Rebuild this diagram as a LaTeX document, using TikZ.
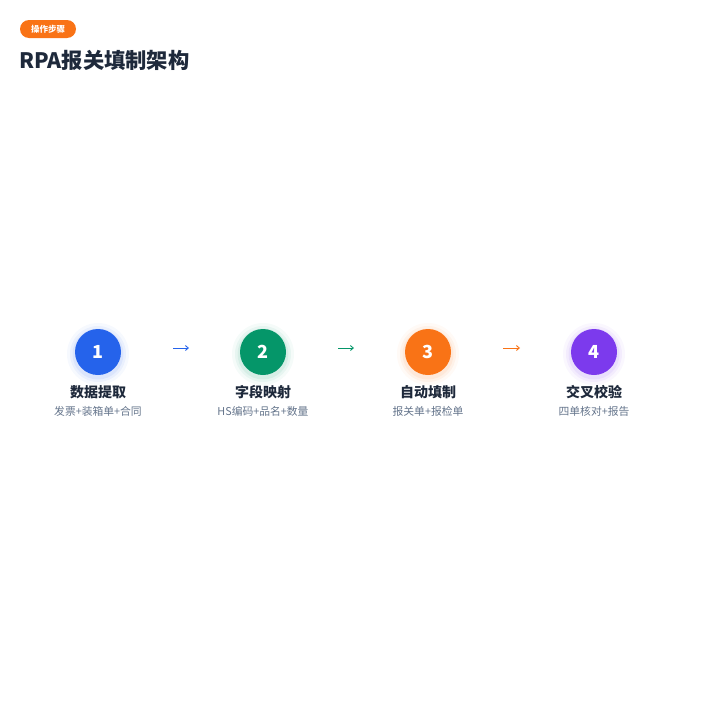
\documentclass[tikz,border=0pt]{standalone}
\usepackage{fontspec}
\setmainfont{Noto Sans CJK SC}
\usepackage{tikz}
\usetikzlibrary{positioning, arrows.meta, calc}
\usepackage{xcolor}
\definecolor{navy}{HTML}{1E293B}
\definecolor{slate}{HTML}{64748B}
\definecolor{cblue}{HTML}{2563EB}
\definecolor{cgreen}{HTML}{059669}
\definecolor{corange}{HTML}{F97316}
\definecolor{cpurple}{HTML}{7C3AED}

\begin{document}
\begin{tikzpicture}[x=1pt, y=-1pt, >=Stealth,
        stepcircle/.style={circle, minimum size=46pt, inner sep=0pt, text=white,
          font=\fontsize{18}{18}\selectfont\bfseries},
        steptitle/.style={font=\fontsize{14}{14}\selectfont\bfseries, text=navy, inner sep=0pt},
        stepnote/.style={font=\fontsize{10.8}{11}\selectfont, text=slate, inner sep=0pt},
        flow/.style={line width=0.9pt, shorten <=75pt, shorten >=74pt,
          arrows={-Straight Barb[length=3pt, width=5pt]}},
      ]
      \useasboundingbox (0,0) rectangle (720,720);

      % badge and title
      \node[fill=corange, text=white, rounded corners=9pt, minimum width=56pt, minimum height=18pt,
        inner sep=0pt, font=\fontsize{8.5}{8.5}\selectfont\bfseries] (badge) at (48,29) {操作步骤};
      \node[anchor=west, inner sep=0pt, text=navy, font=\fontsize{21.3}{21.3}\selectfont\bfseries]
        (title) at (19,60) {RPA报关填制架构};

      % the 4 steps in a row
      \foreach \i/\x/\col/\name/\note in {
        1/98/cblue/数据提取/发票+装箱单+合同,
        2/263/cgreen/字段映射/HS编码+品名+数量,
        3/428/corange/自动填制/报关单+报检单,
        4/594/cpurple/交叉校验/四单核对+报告}
      {
        \foreach \r/\o in {31/0.04, 28/0.06, 25.5/0.08}
          \fill[\col, opacity=\o] (\x,354) circle (\r);
        \node[stepcircle, fill=\col] (step\i) at (\x,352) {\i};
        \node[steptitle] (title\i) at (\x,392) {\name};
        \node[stepnote] (note\i) at (\x,411) {\note};
        \coordinate (arr\i) at (\x,348);
      }

      % arrows between the steps
      \draw[flow, cblue] (arr1) -- (arr2);
      \draw[flow, cgreen] (arr2) -- (arr3);
      \draw[flow, corange] (arr3) -- (arr4);
    \end{tikzpicture}
\end{document}
